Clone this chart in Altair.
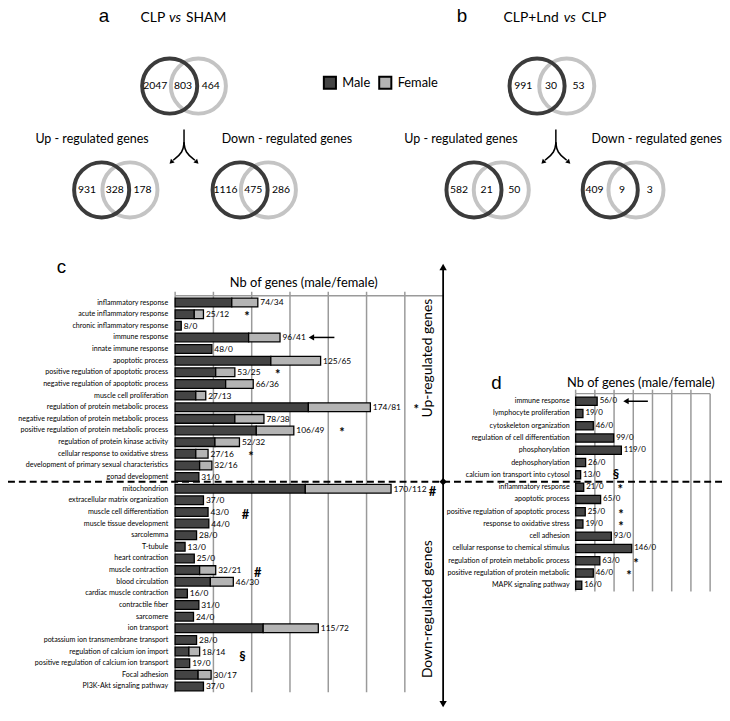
import altair as alt
import pandas as pd

M = 8  # page margin: picture px -> view px

# ------------------------------------------------------------------ data
venn_ids = ["a_all", "a_up", "a_down", "b_all", "b_up", "b_down"]
venn_male_only = [2047, 931, 1116, 991, 582, 409]
venn_both = [803, 328, 475, 30, 21, 9]
venn_female_only = [464, 178, 286, 53, 50, 3]

c_terms = [
    "inflammatory response", "acute inflammatory response", "chronic inflammatory response",
    "immune response", "innate immune response", "apoptotic process",
    "positive regulation of apoptotic process", "negative regulation of apoptotic process",
    "muscle cell proliferation", "regulation of protein metabolic process",
    "negative regulation of protein metabolic process", "positive regulation of protein metabolic process",
    "regulation of protein kinase activity", "cellular response to oxidative stress",
    "development of primary sexual characteristics", "gonad development",
    "mitochondrion", "extracellular matrix organization", "muscle cell differentiation",
    "muscle tissue development", "sarcolemma", "T-tubule", "heart contraction",
    "muscle contraction", "blood circulation", "cardiac muscle contraction",
    "contractile fiber", "sarcomere", "ion transport",
    "potassium ion transmembrane transport", "regulation of calcium ion import",
    "positive regulation of calcium ion transport", "Focal adhesion", "PI3K-Akt signaling pathway",
]
c_male = [74, 25, 8, 96, 48, 125, 53, 66, 27, 174, 78, 106, 52, 27, 32, 31,
          170, 37, 43, 44, 28, 13, 25, 32, 46, 16, 31, 24, 115, 28, 18, 19, 30, 37]
c_female = [34, 12, 0, 41, 0, 65, 25, 36, 13, 81, 38, 49, 32, 16, 16, 0,
            112, 0, 0, 0, 0, 0, 0, 21, 30, 0, 0, 0, 72, 0, 14, 0, 17, 0]
c_note_terms = ["acute inflammatory response", "positive regulation of apoptotic process",
                "regulation of protein metabolic process", "positive regulation of protein metabolic process",
                "cellular response to oxidative stress", "mitochondrion", "muscle cell differentiation",
                "muscle contraction", "regulation of calcium ion import"]
c_note_symbols = ["*", "*", "*", "*", "*", "#", "#", "#", "§"]
c_arrow_term = "immune response"

d_terms = ["immune response", "lymphocyte proliferation", "cytoskeleton organization",
           "regulation of cell differentiation", "phosphorylation", "dephosphorylation",
           "calcium ion transport into cytosol", "inflammatory response", "apoptotic process",
           "positive regulation of apoptotic process", "response to oxidative stress", "cell adhesion",
           "cellular response to chemical stimulus", "regulation of protein metabolic process",
           "positive regulation of protein metabolic", "MAPK signaling pathway"]
d_male = [56, 19, 46, 99, 119, 26, 13, 21, 65, 25, 19, 93, 146, 63, 46, 16]
d_female = [0, 0, 0, 0, 0, 0, 0, 0, 0, 0, 0, 0, 0, 0, 0, 0]
d_note_terms = ["calcium ion transport into cytosol", "inflammatory response",
                "positive regulation of apoptotic process", "response to oxidative stress",
                "regulation of protein metabolic process", "positive regulation of protein metabolic"]
d_note_symbols = ["§", "*", "*", "*", "*", "*"]
d_arrow_term = "immune response"

gene_ticks = [0, 50, 100, 150, 200, 250, 300, 350]

# ------------------------------------------------------------------ layout / style
MALE, FEMALE = "#444444", "#b4b4b4"
VENN_MALE, VENN_FEMALE = "#3b3b3b", "#c4c4c4"
FONT = "Lato"
VENN_POS = {  # picture px: mid x, centre y, half distance between circle centres
    "a_all": (186, 83, 14.5), "a_up": (117, 188, 14.3), "a_down": (257, 188, 14.3),
    "b_all": (558, 83, 15.0), "b_up": (493, 188, 13.8), "b_down": (630, 188, 13.0)}
NUM_DX = (-29, -1, 27)
C_NOTE_X = [94, 134, 315, 218, 99, 336, 92, 108, 88]      # in gene units
C_NOTE_DY = [3, 3, 3, 3, 3, 3, 3, 3, 6]
D_NOTE_X = [105, 116, 118, 118, 157, 139]
D_NOTE_DY = [0, 3, 3, 3, 3, 3]
C_ARROW = (178, 208)
D_ARROW = (131, 188)

XS_C = alt.Scale(domain=[0, 350], range=[177 - M, 448 - M])
YS_C = alt.Scale(domain=c_terms, range=[296 - M, 696 - M], paddingInner=0.25, paddingOuter=0.125)
XS_D = alt.Scale(domain=[0, 350], range=[582 - M, 718 - M])
YS_D = alt.Scale(domain=d_terms, range=[395.5 - M, 594 - M], paddingInner=0.33, paddingOuter=0.165)

COLOR = alt.Color("sex:N", scale=alt.Scale(domain=["Male", "Female"], range=[MALE, FEMALE]),
                  legend=alt.Legend(orient="none", legendX=318, legendY=64, direction="horizontal",
                                    title=None, symbolType="square", symbolSize=150,
                                    symbolStrokeColor="black", symbolStrokeWidth=2,
                                    symbolOpacity=1, labelFont=FONT, labelFontSize=13,
                                    labelColor="black", columnPadding=4, padding=0, labelOffset=5))

ONE = pd.DataFrame({"k": [0]})


def px_text(rows, **kw):
    df = pd.DataFrame(rows, columns=["t", "px", "py"])
    df["px"] = df["px"] - M
    df["py"] = df["py"] - M
    style = {"font": FONT, "color": "black"}
    style.update(kw)
    return alt.Chart(df).mark_text(**style).encode(
        x=alt.X("px:Q", scale=None, axis=None), y=alt.Y("py:Q", scale=None, axis=None), text="t:N")


# ------------------------------------------------------------------ Venn diagrams
circ_m, circ_f, nums = [], [], []
for vid, a, b, c in zip(venn_ids, venn_male_only, venn_both, venn_female_only):
    mx, my, h = VENN_POS[vid]
    circ_m.append((mx - h - M, my - M))
    circ_f.append((mx + h - M, my - M))
    for val, dx in zip((a, b, c), NUM_DX):
        nums.append((str(val), mx + dx, my))

def circles(pts, col):
    df = pd.DataFrame(pts, columns=["px", "py"])
    return alt.Chart(df).mark_point(shape="circle", filled=False, size=3100, strokeWidth=4,
                                    color=col, opacity=1).encode(
        x=alt.X("px:Q", scale=None, axis=None), y=alt.Y("py:Q", scale=None, axis=None))

venn_layers = [circles(circ_f, VENN_FEMALE), circles(circ_m, VENN_MALE),
               px_text(nums, fontSize=10.5, baseline="middle", align="center")]

# titles
head = [
    px_text([("a", 105, 18), ("b", 467, 18)], font="Liberation Sans", fontSize=19, baseline="alphabetic",
            align="center"),
    px_text([("CLP", 167, 18), ("CLP+Lnd", 565, 18)], fontSize=14, baseline="alphabetic", align="right"),
    px_text([("SHAM", 188, 18), ("CLP", 588, 18)], fontSize=14, baseline="alphabetic", align="left"),
    px_text([("vs", 177, 18), ("vs", 576, 18)], fontSize=14, baseline="alphabetic", align="center",
            fontStyle="italic"),
    px_text([("Up - regulated genes", 93, 137), ("Down - regulated genes", 290, 137),
             ("Up - regulated genes", 466, 137), ("Down - regulated genes", 664, 137)],
            fontSize=12.6, baseline="middle"),
]

# branching arrows
br = []
for sx in (186, 562):
    br += [(f"s{sx}", 0, sx, 127), (f"s{sx}", 1, sx, 143)]
    br += [(f"l{sx}", 0, sx, 140), (f"l{sx}", 1, sx - 1, 150), (f"l{sx}", 2, sx - 11, 158)]
    br += [(f"r{sx}", 0, sx, 140), (f"r{sx}", 1, sx + 1, 150), (f"r{sx}", 2, sx + 11, 158)]
br_df = pd.DataFrame(br, columns=["seg", "i", "px", "py"])
br_df["px"] -= M
br_df["py"] -= M
branch = alt.Chart(br_df).mark_line(interpolate="basis", color="black", strokeWidth=1.5).encode(
    x=alt.X("px:Q", scale=None, axis=None), y=alt.Y("py:Q", scale=None, axis=None),
    detail="seg:N", order="i:Q")
heads_df = pd.DataFrame([(sx - 13 - M, 160 - M, 225) for sx in (186, 562)] +
                        [(sx + 13 - M, 160 - M, 135) for sx in (186, 562)], columns=["px", "py", "ang"])
branch_heads = alt.Chart(heads_df).mark_point(shape="triangle-up", filled=True, color="black",
                                              size=28, opacity=1).encode(
    x=alt.X("px:Q", scale=None, axis=None), y=alt.Y("py:Q", scale=None, axis=None),
    angle=alt.Angle("ang:Q", scale=None))


# ------------------------------------------------------------------ bar panels
def bar_panel(terms, male, female, xs, ys, grid_ticks, grid_top, grid_bottom, lab_size, lab_dx,
              val_size, note_terms, note_syms, note_x, note_dy, arrow_term, arrow_x):
    df = pd.DataFrame({"term": terms, "male": male, "female": female})
    df["total"] = df["male"] + df["female"]
    df["label"] = df["male"].astype(str) + "/" + df["female"].astype(str)
    long = pd.concat([
        pd.DataFrame({"term": terms, "sex": "Male", "n": male, "ord": 0}),
        pd.DataFrame({"term": terms, "sex": "Female", "n": female, "ord": 1})])
    long = long[long["n"] > 0]

    X = lambda f: alt.X(f, scale=xs, axis=None)
    Y = alt.Y("term:N", scale=ys, axis=None)

    grid = alt.Chart(pd.DataFrame({"g": grid_ticks})).mark_rule(color="#9a9a9a", strokeWidth=1.5).encode(
        x=X("g:Q"), y=alt.value(grid_top - M), y2=alt.value(grid_bottom - M))
    ticks = alt.Chart(pd.DataFrame({"g": gene_ticks[:-1]})).mark_rule(color="#9a9a9a", strokeWidth=1.5).encode(
        x=X("g:Q"), y=alt.value(grid_top - 4 - M), y2=alt.value(grid_top - M))
    top = alt.Chart(ONE).mark_rule(color="#9a9a9a", strokeWidth=1.5).encode(
        x=alt.XDatum(0, scale=xs, axis=None), x2=alt.X2Datum(350), y=alt.value(grid_top - M))
    bars = alt.Chart(long).mark_bar(stroke="black", strokeWidth=1.3, opacity=1).encode(
        x=alt.X("n:Q", scale=xs, axis=None, stack="zero"), y=Y, color=COLOR, order=alt.Order("ord:Q"))
    labels = alt.Chart(df).mark_text(align="right", baseline="middle", dx=lab_dx, fontSize=lab_size,
                                     font=FONT, color="black").encode(
        x=alt.XDatum(0, scale=xs, axis=None), y=Y, text="term:N")
    values = alt.Chart(df).mark_text(align="left", baseline="middle", dx=2.5, fontSize=val_size,
                                     font=FONT, color="black").encode(
        x=X("total:Q"), y=Y, text="label:N")
    ndf = pd.DataFrame({"term": note_terms, "sym": note_syms, "nx": note_x, "ndy": note_dy})
    notes = []
    for dy in sorted(set(note_dy)):
        sub = ndf[ndf["ndy"] == dy]
        notes.append(alt.Chart(sub).mark_text(align="center", baseline="middle", dy=dy, fontSize=13,
                                              fontWeight="bold", font=FONT, color="black").encode(
            x=X("nx:Q"), y=Y, text="sym:N"))
    adf = pd.DataFrame({"term": [arrow_term], "a0": [arrow_x[0] + 2], "a1": [arrow_x[1]],
                        "tip": [arrow_x[0]]})
    arrow = alt.Chart(adf).mark_rule(color="black", strokeWidth=1.5).encode(
        x=X("a0:Q"), x2="a1:Q", y=Y)
    arrow_head = alt.Chart(adf).mark_point(shape="triangle-left", filled=True, color="black",
                                           size=40, opacity=1).encode(x=X("tip:Q"), y=Y)
    return alt.layer(grid, ticks, top, bars, labels, values, *notes, arrow, arrow_head)


panel_c = bar_panel(c_terms, c_male, c_female, XS_C, YS_C, gene_ticks[:-1], 295, 696, 7.2, -7, 8.5,
                    c_note_terms, c_note_symbols, C_NOTE_X, C_NOTE_DY, c_arrow_term, C_ARROW)
panel_d = bar_panel(d_terms, d_male, d_female, XS_D, YS_D, gene_ticks, 394, 594, 7.2, -6, 8,
                    d_note_terms, d_note_symbols, D_NOTE_X, D_NOTE_DY, d_arrow_term, D_ARROW)

panel_text = [
    px_text([("c", 62, 266), ("d", 502, 383)], font="Liberation Sans", fontSize=19, baseline="middle"),
    px_text([("Nb of genes (male/female)", 307, 282), ("Nb of genes (male/female)", 648, 383)],
            fontSize=13, baseline="middle"),
    px_text([("Up-regulated genes", 433, 358), ("Down-regulated genes", 433, 612)],
            fontSize=14, baseline="middle", angle=270),
]

# separators: dashed split line and the up/down double arrow
dash = alt.Chart(ONE).mark_rule(color="black", strokeWidth=2, strokeDash=[7, 4]).encode(
    x=alt.value(0), x2=alt.value(730 - M), y=alt.value(483 - M))
vline = alt.Chart(ONE).mark_rule(color="black", strokeWidth=1.8).encode(
    x=alt.value(448 - M), y=alt.value(266 - M), y2=alt.value(709 - M))
vheads = alt.Chart(pd.DataFrame({"px": [448 - M, 448 - M, 448 - M], "py": [266 - M, 708 - M, 483 - M],
                                 "shp": ["triangle-up", "triangle-down", "diamond"]})).mark_point(
    filled=True, color="black", size=55, opacity=1).encode(
    x=alt.X("px:Q", scale=None, axis=None), y=alt.Y("py:Q", scale=None, axis=None),
    shape=alt.Shape("shp:N", scale=None))

chart = alt.layer(
    *venn_layers, *head, branch, branch_heads, panel_c, panel_d, *panel_text, dash, vline, vheads
).resolve_scale(x="independent", y="independent").properties(
    width=722, height=705, autosize=alt.AutoSizeParams(type="none"), padding=0,
    background="white"
).configure_view(stroke=None)

chart.save("out.html", embed_options={"renderer": "svg", "actions": False})
